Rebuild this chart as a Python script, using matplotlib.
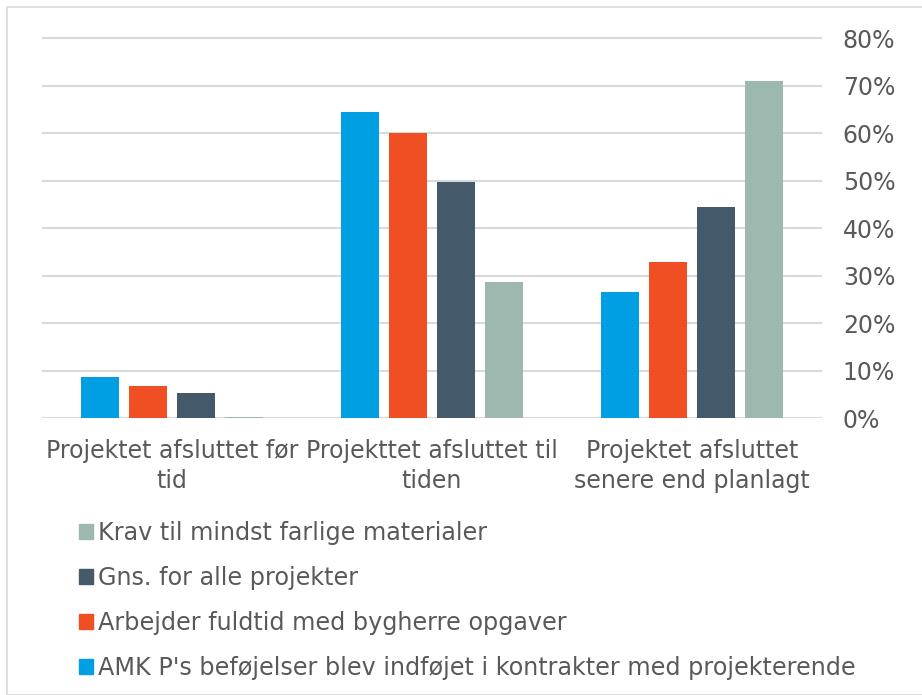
import matplotlib
matplotlib.use('Agg')
import matplotlib.pyplot as plt
import numpy as np
from matplotlib.patches import Patch, Rectangle

categories = ['Projektet afsluttet før\ntid',
              'Projekttet afsluttet til\ntiden',
              'Projektet afsluttet\nsenere end planlagt']
series_names = ["AMK P's beføjelser blev indføjet i kontrakter med projekterende",
                'Arbejder fuldtid med bygherre opgaver',
                'Gns. for alle projekter',
                'Krav til mindst farlige materialer']
amk = [8.6, 64.5, 26.5]
fuldtid = [6.7, 60.1, 32.8]
gns = [5.3, 49.8, 44.5]
krav = [0.2, 28.6, 71.0]
colors = ['#009FE3', '#F04E23', '#44596A', '#9DB8AF']
yticks = [0, 10, 20, 30, 40, 50, 60, 70, 80]

text_col = '#595959'
plt.rcParams['font.family'] = ['DejaVu Sans']

fig = plt.figure(figsize=(9.22, 6.95), dpi=100)
fig.patches.append(Rectangle((7 / 922, 0), 1.2, 1 - 7 / 695, transform=fig.transFigure,
                             fill=False, edgecolor='#D9D9D9', linewidth=1.2))
ax = fig.add_axes([42 / 922, 277 / 695, 780 / 922, 381 / 695])

x = np.arange(len(categories))
step = 0.185
width = 0.146
for i, (vals, c) in enumerate(zip([amk, fuldtid, gns, krav], colors)):
    ax.bar(x + (i - 1.5) * step, vals, width, color=c, zorder=3)

ax.set_xlim(-0.5, 2.5)
ax.set_ylim(0, 80.3)
ax.set_yticks(yticks)
ax.set_yticklabels([f'{v}%' for v in yticks], fontsize=17, color=text_col)
ax.yaxis.tick_right()
ax.tick_params(axis='y', length=0, pad=15)
ax.set_xticks(x)
ax.set_xticklabels(categories, fontsize=17, color=text_col, linespacing=1.35)
ax.tick_params(axis='x', length=0, pad=15)
ax.grid(True, axis='y', color='#D9D9D9', linewidth=1.5, zorder=0)
for s in ax.spines.values():
    s.set_visible(False)

handles = [Patch(color=c, label=n) for c, n in zip(colors, series_names)][::-1]
fig.legend(handles=handles, loc='upper left', bbox_to_anchor=(79 / 922, 1 - 521 / 695),
           frameon=False, fontsize=17.2, labelcolor=text_col,
           handlelength=0.6, handleheight=0.6, handletextpad=0.2,
           labelspacing=0.88, borderaxespad=0, borderpad=0)

fig.savefig('out.png', dpi=100)
